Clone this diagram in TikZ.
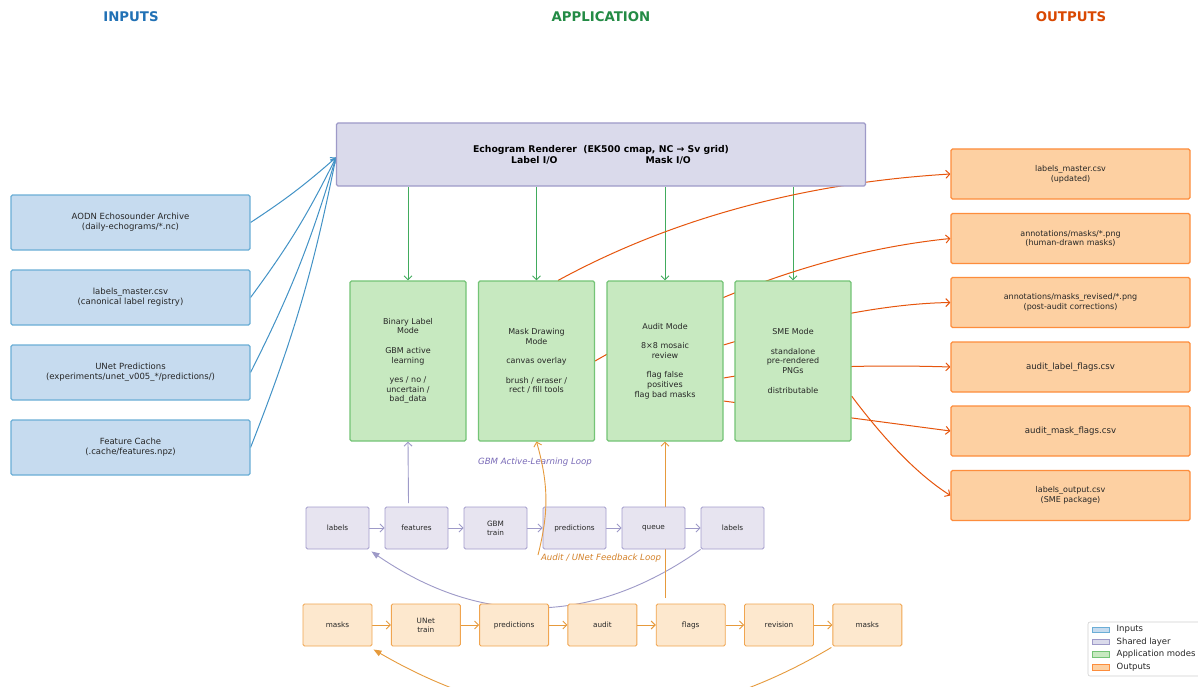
\documentclass[tikz,border=0pt]{standalone}
\usepackage{fontspec}
\setmainfont{DejaVu Sans}
\usetikzlibrary{arrows.meta,calc}
\definecolor{inFill}{HTML}{C6DBEF}
\definecolor{inEdge}{HTML}{6BAED6}
\definecolor{inArrow}{HTML}{4292C6}
\definecolor{inTitle}{HTML}{2171B5}
\definecolor{shFill}{HTML}{DADAEB}
\definecolor{shEdge}{HTML}{9E9AC8}
\definecolor{apFill}{HTML}{C7E9C0}
\definecolor{apEdge}{HTML}{74C476}
\definecolor{apArrow}{HTML}{41AB5D}
\definecolor{apTitle}{HTML}{238B45}
\definecolor{outFill}{HTML}{FDD0A2}
\definecolor{outEdge}{HTML}{FD8D3C}
\definecolor{outArrow}{HTML}{E6550D}
\definecolor{outTitle}{HTML}{D94801}
\definecolor{gbmFill}{HTML}{E7E4F0}
\definecolor{gbmEdge}{HTML}{A39DCC}
\definecolor{gbmArrow}{HTML}{9E9AC8}
\definecolor{gbmText}{HTML}{7A6BB8}
\definecolor{audFill}{HTML}{FDE8CE}
\definecolor{audEdge}{HTML}{F0A550}
\definecolor{audArrow}{HTML}{E69A3C}
\definecolor{audText}{HTML}{D4822A}
\pgfdeclarelayer{bgfill}
\pgfdeclarelayer{edges}
\pgfsetlayers{bgfill,edges,main}
\tikzset{
  box/.style={rounded corners=1.5pt, line width=1.1pt, inner sep=0pt, align=center, text=black!85},
  inbox/.style={box, fill=inFill, draw=inEdge, minimum width=239pt, minimum height=55pt, font=\fontsize{8.5}{10.2}\selectfont},
  shbox/.style={box, fill=shFill, draw=shEdge, minimum width=529pt, minimum height=63pt, font=\bfseries\fontsize{9.3}{11}\selectfont, text=black},
  apbox/.style={box, fill=apFill, draw=apEdge, minimum width=116pt, minimum height=160pt, font=\fontsize{8}{9.7}\selectfont},
  outbox/.style={box, fill=outFill, draw=outEdge, minimum width=239pt, minimum height=50pt, font=\fontsize{8}{9.6}\selectfont},
  outboxl/.style={outbox, font=\fontsize{8.6}{10.3}\selectfont},
  gbmbox/.style={box, fill=gbmFill, draw=gbmEdge, line width=0.9pt, minimum width=63pt, minimum height=42pt, font=\fontsize{7.3}{8.8}\selectfont},
  audbox/.style={box, fill=audFill, draw=audEdge, line width=0.9pt, minimum width=69pt, minimum height=42pt, font=\fontsize{7.3}{8.8}\selectfont},
  ttl/.style={font=\bfseries\fontsize{13.3}{15}\selectfont},
  barb/.style={-{Straight Barb[length=4pt,width=8pt]}},
  inarrow/.style={barb, draw=inArrow, line width=1pt},
  aparrow/.style={barb, draw=apArrow, line width=0.9pt},
  outarrow/.style={barb, draw=outArrow, line width=1pt},
  gbmarrow/.style={barb, draw=gbmArrow, line width=0.9pt},
  audarrow/.style={barb, draw=audArrow, line width=0.9pt},
  gbmback/.style={-{Triangle[length=8pt,width=6pt]}, draw=gbmArrow, line width=0.9pt},
  audback/.style={-{Triangle[length=8pt,width=6pt]}, draw=audArrow, line width=0.9pt},
  looplabel/.style={font=\itshape\fontsize{8.6}{10}\selectfont},
  legpatch/.style={draw, line width=0.8pt, minimum width=17pt, minimum height=5.5pt, inner sep=0pt},
  legtext/.style={anchor=west, inner sep=0pt, font=\fontsize{8.5}{10}\selectfont, text=black!85}
}
\begin{document}
\begin{tikzpicture}[x=1pt,y=-1pt]
\begin{pgfonlayer}{bgfill}
\fill[white] (0,0) rectangle (1198,687);
\end{pgfonlayer}
\useasboundingbox (0,0) rectangle (1198,687);

% titles
\node[ttl, text=inTitle] (tin) at (131,17) {INPUTS};
\node[ttl, text=apTitle] (tap) at (601,17) {APPLICATION};
\node[ttl, text=outTitle] (tout) at (1071,17) {OUTPUTS};

% inputs
\node[inbox] (i1) at (130.5,222.5) {AODN Echosounder Archive\\(daily-echograms/*.nc)};
\node[inbox] (i2) at (130.5,297.5) {labels\_master.csv\\(canonical label registry)};
\node[inbox] (i3) at (130.5,372.5) {UNet Predictions\\(experiments/unet\_v005\_*/predictions/)};
\node[inbox] (i4) at (130.5,447.5) {Feature Cache\\(.cache/features.npz)};

% shared layer
\node[shbox] (rend) at (601,154.5) {Echogram Renderer\ \ (EK500 cmap, NC → Sv grid)\\Label I/O\hspace{88pt}Mask I/O};

% application modes
\node[apbox] (bin) at (408,361) {Binary Label\\Mode\\[9.7pt]GBM active\\learning\\[9.7pt]yes / no /\\uncertain /\\bad\_data};
\node[apbox] (mask) at (536.5,361) {Mask Drawing\\Mode\\[9.7pt]canvas overlay\\[9.7pt]brush / eraser /\\rect / fill tools};
\node[apbox] (audit) at (665,361) {Audit Mode\\[9.7pt]8×8 mosaic\\review\\[9.7pt]flag false\\positives\\flag bad masks};
\node[apbox] (sme) at (793,361) {SME Mode\\[9.7pt]standalone\\pre-rendered\\PNGs\\[9.7pt]distributable};

% outputs
\node[outbox] (o1) at (1070.5,174) {labels\_master.csv\\(updated)};
\node[outbox] (o2) at (1070.5,238.5) {annotations/masks/*.png\\(human-drawn masks)};
\node[outbox] (o3) at (1070.5,302.5) {annotations/masks\_revised/*.png\\(post-audit corrections)};
\node[outboxl] (o4) at (1070.5,367) {audit\_label\_flags.csv};
\node[outboxl] (o5) at (1070.5,431) {audit\_mask\_flags.csv};
\node[outbox] (o6) at (1070.5,495.5) {labels\_output.csv\\(SME package)};

% GBM loop row
\node[gbmbox] (g1) at (337.5,528) {labels};
\node[gbmbox] (g2) at (416.5,528) {features};
\node[gbmbox] (g3) at (495.5,528) {GBM\\train};
\node[gbmbox] (g4) at (574.5,528) {predictions};
\node[gbmbox] (g5) at (653.5,528) {queue};
\node[gbmbox] (g6) at (732.5,528) {labels};

% Audit loop row
\node[audbox] (a1) at (337.5,625) {masks};
\node[audbox] (a2) at (425.8,625) {UNet\\train};
\node[audbox] (a3) at (514.1,625) {predictions};
\node[audbox] (a4) at (602.4,625) {audit};
\node[audbox] (a5) at (690.7,625) {flags};
\node[audbox] (a6) at (779,625) {revision};
\node[audbox] (a7) at (867.3,625) {masks};

% loop labels
\node[looplabel, text=gbmText] (lg) at (535,462) {GBM Active-Learning Loop};
\node[looplabel, text=audText] (la) at (601,558) {Audit / UNet Feedback Loop};

\coordinate (fs) at (408.5,503);
\coordinate (ms) at (538,555);
\coordinate (as) at (665,598);

\begin{pgfonlayer}{edges}
% inputs -> renderer
\draw[inarrow] (i1.east) to[bend right=4] ([shift={(0,3)}]rend.west);
\draw[inarrow] (i2.east) to[bend right=5] ([shift={(0,3)}]rend.west);
\draw[inarrow] (i3.east) to[bend right=5] ([shift={(0,3)}]rend.west);
\draw[inarrow] (i4.east) to[bend right=5] ([shift={(0,3)}]rend.west);
% renderer -> modes
\foreach \m in {bin,mask,audit,sme}
  \draw[aparrow] (rend.south -| \m.north) -- (\m.north);
% modes -> outputs
\draw[outarrow] ([shift={(21.5,0)}]mask.north) .. controls +(112,-61) and +(-149,9) .. (o1.west);
\draw[outarrow] (mask.east) .. controls +(120,-69) and +(-117,12) .. (o2.west);
\draw[outarrow] ([shift={(0,-16)}]audit.east) .. controls +(89,-27) and +(-62,1) .. (o3.west);
\draw[outarrow] ([shift={(0,17)}]audit.east) .. controls +(57,-10) and +(-95,-3) .. (o4.west);
\draw[outarrow] ([shift={(0,40)}]audit.east) -- (o5.west);
\draw[outarrow] ([shift={(0,35)}]sme.east) .. controls +(33,44) and +(-33,-21) .. (o6.west);
% GBM loop
\draw[gbmarrow] (g1) -- (g2);
\draw[gbmarrow] (g2) -- (g3);
\draw[gbmarrow] (g3) -- (g4);
\draw[gbmarrow] (g4) -- (g5);
\draw[gbmarrow] (g5) -- (g6);
\draw[gbmarrow] (fs) -- (bin.south);
\draw[gbmback] (g6.south west) .. controls +(-109,77) and +(109,75) .. ([shift={(2,2)}]g1.south east);
% Audit loop
\draw[audarrow] (a1) -- (a2);
\draw[audarrow] (a2) -- (a3);
\draw[audarrow] (a3) -- (a4);
\draw[audarrow] (a4) -- (a5);
\draw[audarrow] (a5) -- (a6);
\draw[audarrow] (a6) -- (a7);
\draw[audarrow] (as) -- (audit.south);
\draw[audback] ([shift={(-1,1)}]a7.south west) .. controls +(-153,91) and +(153,89) .. ([shift={(1,3)}]a1.south east);
\end{pgfonlayer}
\draw[audarrow] (ms) to[bend right=15] (mask.south);

% legend
\draw[draw=black!18, fill=white, rounded corners=2pt, line width=0.6pt] (1088,622) rectangle (1206,676);
\node[legpatch, fill=inFill, draw=inEdge] (lp1) at (1100.5,629.7) {};
\node[legpatch, fill=shFill, draw=shEdge] (lp2) at (1100.5,641.9) {};
\node[legpatch, fill=apFill, draw=apEdge] (lp3) at (1100.5,654.6) {};
\node[legpatch, fill=outFill, draw=outEdge] (lp4) at (1100.5,667.2) {};
\node[legtext] (lt1) at (1116.5,629.7) {Inputs};
\node[legtext] (lt2) at (1116.5,641.9) {Shared layer};
\node[legtext] (lt3) at (1116.5,654.6) {Application modes};
\node[legtext] (lt4) at (1116.5,667.2) {Outputs};
\end{tikzpicture}
\end{document}
